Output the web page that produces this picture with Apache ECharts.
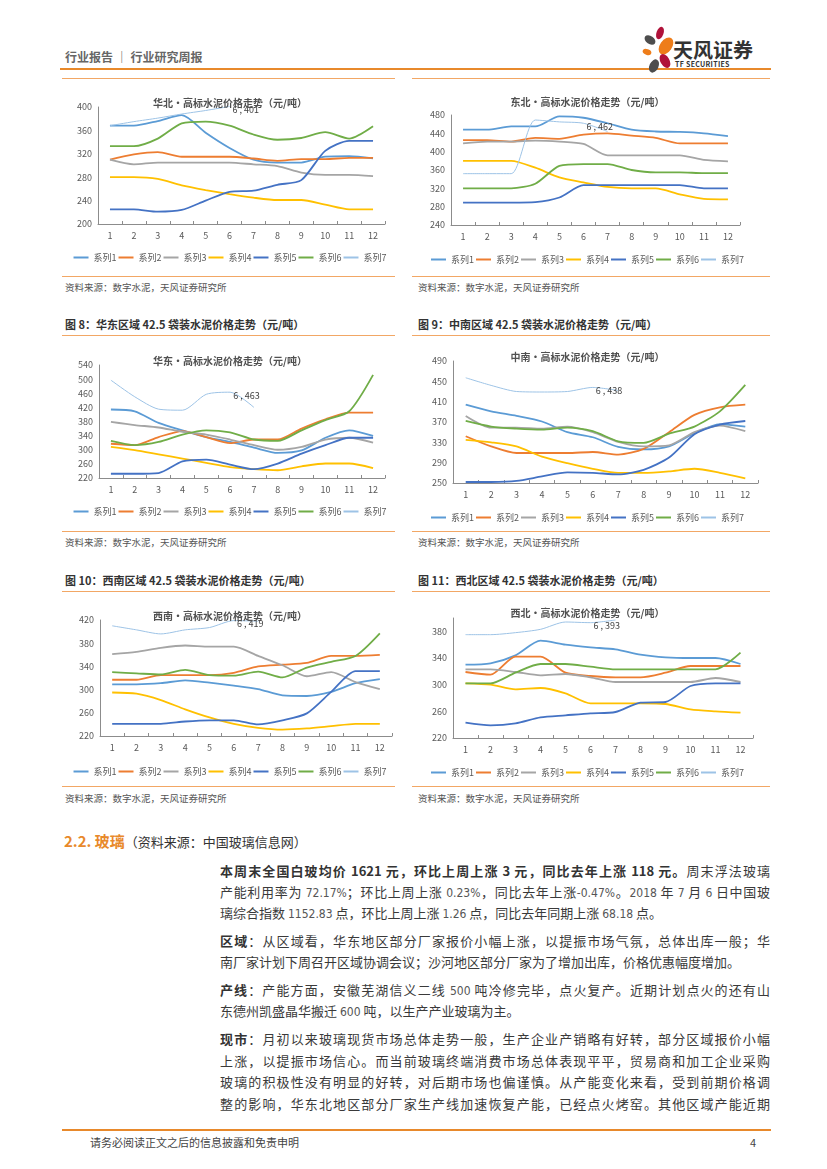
<!DOCTYPE html>
<html><head><meta charset="utf-8">
<script src="https://cdn.jsdelivr.net/npm/echarts@6/dist/echarts.min.js"></script>
<style>
html,body{margin:0;padding:0;background:#fff;}
body{width:827px;height:1169px;position:relative;overflow:hidden;font-family:"Noto Sans CJK SC","Noto Sans",sans-serif;color:#333;}
.abs{position:absolute;white-space:nowrap;}
.hl{position:absolute;height:1px;background:#F2A765;}
.chart{position:absolute;}
.src{position:absolute;font-size:9.5px;color:#555;white-space:nowrap;}
.fig{position:absolute;font-size:11px;font-weight:bold;color:#333;white-space:nowrap;}
.ln{position:absolute;left:220px;width:550px;font-size:13px;line-height:18px;color:#3a3a3a;text-align:justify;text-align-last:justify;white-space:nowrap;}
.ln.last{text-align-last:left;}
.ln b{color:#333;}
.num{color:#555;font-family:"DejaVu Sans Condensed","Liberation Sans",sans-serif;font-size:12px;}
</style></head>
<body>
<script>
// ---------- data ----------
const categories = ['1','2','3','4','5','6','7','8','9','10','11','12'];
const seriesNames = ['系列1','系列2','系列3','系列4','系列5','系列6','系列7'];

// 华北
const HB1 = [368,368,376,386,356,330,310,305,305,315,316,312];
const HB2 = [310,319,323,315,315,315,312,308,311,311,313,313];
const HB3 = [310,302,305,305,305,305,302,299,288,284,284,282];
const HB4 = [280,280,277,266,258,251,245,241,241,233,225,225];
const HB5 = [225,225,221,224,240,255,257,267,275,325,342,342];
const HB6 = [333,333,346,372,375,368,353,344,347,357,346,367];
const HB7 = [368,375,381,388,394,401];
const HB_TICKS = [200,240,280,320,360,400];

// 东北
const DB1 = [448,448,455,455,477,474,462,448,444,443,440,434];
const DB2 = [425,425,422,430,428,437,440,435,430,418,418,418];
const DB3 = [418,422,422,424,422,417,392,392,392,392,382,379];
const DB4 = [380,380,380,365,344,333,323,320,320,307,297,296];
const DB5 = [289,289,289,290,300,327,327,327,327,327,320,320];
const DB6 = [320,320,320,330,369,373,373,360,355,355,353,353];
const DB7 = [352,352,352,469,465,462,444];
const DB_TICKS = [240,280,320,360,400,440,480];

// 华东
const HD1 = [414,409,376,355,336,322,306,291,298,334,355,339];
const HD2 = [317,313,336,353,336,319,329,329,360,386,405,405];
const HD3 = [379,370,363,351,343,329,313,300,308,329,334,320];
const HD4 = [308,299,287,275,263,251,245,242,253,261,261,248];
const HD5 = [232,232,234,267,272,258,245,261,289,313,334,334];
const HD6 = [325,313,322,343,355,349,329,325,355,384,409,512];
const HD7 = [497,450,415,412,457,463,420];
const HD_TICKS = [220,260,300,340,380,420,460,500,540];

// 中南
const ZN1 = [404,391,382,371,350,340,321,316,322,348,366,361];
const ZN2 = [342,322,309,309,309,311,306,317,350,384,399,404];
const ZN3 = [382,359,359,357,361,350,331,322,324,350,363,352];
const ZN4 = [335,330,322,302,289,278,270,270,273,278,270,259];
const ZN5 = [252,252,254,263,271,270,267,276,300,346,365,372];
const ZN6 = [372,361,357,355,359,352,332,329,347,361,391,443];
const ZN7 = [457,442,430,429,430,438,432];
const ZN_TICKS = [250,290,330,370,410,450,490];

// 西南
const XN1 = [309,309,311,316,312,307,301,290,289,296,311,318];
const XN2 = [317,317,325,325,325,329,340,343,346,358,358,360];
const XN3 = [361,365,372,376,374,374,358,342,323,330,313,301];
const XN4 = [295,293,282,266,252,241,234,231,233,237,241,241];
const XN5 = [241,241,241,245,247,247,240,247,259,296,332,332];
const XN6 = [330,328,326,334,325,324,331,321,338,348,358,397];
const XN7 = [410,403,396,403,407,419,418];
const XN_TICKS = [220,260,300,340,380,420];

// 西北
const XB1 = [330,332,344,366,360,356,353,345,341,340,340,331];
const XB2 = [319,315,342,342,318,313,311,311,318,328,328,328];
const XB3 = [323,323,319,314,316,311,304,304,304,304,310,304];
const XB4 = [302,300,293,295,287,272,272,272,271,263,260,258];
const XB5 = [243,239,242,251,254,257,259,273,274,298,302,302];
const XB6 = [302,302,318,331,331,327,323,323,323,323,323,348];
const XB7 = [375,375,378,383,394,393,397];
const XB_TICKS = [220,260,300,340,380];

const LABEL_INDEX = 5; // data label on 系列7 at category 6
const COLORS = ['#5B9BD5','#ED7D31','#A5A5A5','#FFC000','#4472C4','#70AD47','#9DC3E6'];
</script>

<!-- header -->
<div class="abs" style="left:65px;top:48px;font-size:12px;font-weight:bold;color:#666;">行业报告 ｜ 行业研究周报</div>
<div style="position:absolute;left:60px;top:68px;width:711px;height:2px;background:#E8892B;"></div>
<svg style="position:absolute;left:636px;top:24px;" width="40" height="52" viewBox="636 24 40 52">
  <ellipse cx="660" cy="33" rx="3.5" ry="6.5" fill="#B0123A" transform="rotate(20 660 33)"/>
  <ellipse cx="650" cy="40" rx="4" ry="6" fill="#4D4D4D" transform="rotate(-55 650 40)"/>
  <ellipse cx="666" cy="46" rx="6" ry="9.5" fill="#EE7D1A" transform="rotate(35 666 46)"/>
  <ellipse cx="647" cy="52" rx="2.8" ry="4.5" fill="#EE7D1A" transform="rotate(-70 647 52)"/>
  <ellipse cx="665" cy="61" rx="4.5" ry="7.5" fill="#B0123A" transform="rotate(-30 665 61)"/>
  <ellipse cx="654" cy="66" rx="4.5" ry="7" fill="#4D4D4D" transform="rotate(25 654 66)"/>
</svg>
<div class="abs" style="left:673px;top:35px;font-size:20px;font-weight:bold;color:#333;">天风证券</div>
<div class="abs" style="left:675px;top:59px;font-size:7px;font-weight:bold;color:#333;letter-spacing:0.3px;">TF SECURITIES</div>

<!-- frame lines -->
<div class="hl" style="left:62px;top:78px;width:333px;"></div>
<div class="hl" style="left:412px;top:78px;width:358px;"></div>
<div class="hl" style="left:62px;top:276px;width:333px;"></div>
<div class="hl" style="left:412px;top:276px;width:358px;"></div>
<div class="src" style="left:65px;top:280px;">资料来源：数字水泥，天风证券研究所</div>
<div class="src" style="left:418px;top:280px;">资料来源：数字水泥，天风证券研究所</div>
<div class="fig" style="left:65px;top:316px;">图 8：华东区域 42.5 袋装水泥价格走势（元/吨）</div>
<div class="fig" style="left:418px;top:316px;">图 9：中南区域 42.5 袋装水泥价格走势（元/吨）</div>
<div class="hl" style="left:62px;top:335px;width:333px;"></div>
<div class="hl" style="left:412px;top:335px;width:358px;"></div>
<div class="hl" style="left:62px;top:531px;width:333px;"></div>
<div class="hl" style="left:412px;top:531px;width:358px;"></div>
<div class="src" style="left:65px;top:535px;">资料来源：数字水泥，天风证券研究所</div>
<div class="src" style="left:418px;top:535px;">资料来源：数字水泥，天风证券研究所</div>
<div class="fig" style="left:65px;top:572px;">图 10：西南区域 42.5 袋装水泥价格走势（元/吨）</div>
<div class="fig" style="left:418px;top:572px;">图 11：西北区域 42.5 袋装水泥价格走势（元/吨）</div>
<div class="hl" style="left:62px;top:591px;width:333px;"></div>
<div class="hl" style="left:412px;top:591px;width:358px;"></div>
<div class="hl" style="left:62px;top:786px;width:333px;"></div>
<div class="hl" style="left:412px;top:786px;width:358px;"></div>
<div class="src" style="left:65px;top:791px;">资料来源：数字水泥，天风证券研究所</div>
<div class="src" style="left:418px;top:791px;">资料来源：数字水泥，天风证券研究所</div>

<div id="c1" class="chart" style="left:60px;top:88px;width:340px;height:185px;"></div>
<div id="c2" class="chart" style="left:405px;top:88px;width:365px;height:185px;"></div>
<div id="c3" class="chart" style="left:60px;top:340px;width:340px;height:188px;"></div>
<div id="c4" class="chart" style="left:405px;top:340px;width:365px;height:188px;"></div>
<div id="c5" class="chart" style="left:60px;top:595px;width:340px;height:188px;"></div>
<div id="c6" class="chart" style="left:405px;top:595px;width:365px;height:188px;"></div>

<!-- section 2.2 -->
<div class="abs" style="left:64px;top:830px;font-size:15px;"><span style="color:#E8892B;font-weight:bold;">2.2. 玻璃</span><span style="font-size:13px;color:#333;">（资料来源：中国玻璃信息网）</span></div>

<div class="ln" style="top:862px;"><b>本周末全国白玻均价 1621 元，环比上周上涨 3 元，同比去年上涨 118 元。</b>周末浮法玻璃</div>
<div class="ln" style="top:883px;">产能利用率为 <span class="num">72.17%</span>；环比上周上涨 <span class="num">0.23%</span>，同比去年上涨<span class="num">-0.47%</span>。<span class="num">2018</span> 年 <span class="num">7</span> 月 <span class="num">6</span> 日中国玻</div>
<div class="ln last" style="top:904px;">璃综合指数 <span class="num">1152.83</span> 点，环比上周上涨 <span class="num">1.26</span> 点，同比去年同期上涨 <span class="num">68.18</span> 点。</div>

<div class="ln" style="top:932px;"><b>区域</b>：从区域看，华东地区部分厂家报价小幅上涨，以提振市场气氛，总体出库一般；华</div>
<div class="ln last" style="top:953px;">南厂家计划下周召开区域协调会议；沙河地区部分厂家为了增加出库，价格优惠幅度增加。</div>

<div class="ln" style="top:981px;"><b>产线</b>：产能方面，安徽芜湖信义二线 <span class="num">500</span> 吨冷修完毕，点火复产。近期计划点火的还有山</div>
<div class="ln last" style="top:1002px;">东德州凯盛晶华搬迁 <span class="num">600</span> 吨，以生产产业玻璃为主。</div>

<div class="ln" style="top:1030px;"><b>现市</b>：月初以来玻璃现货市场总体走势一般，生产企业产销略有好转，部分区域报价小幅</div>
<div class="ln" style="top:1052px;">上涨，以提振市场信心。而当前玻璃终端消费市场总体表现平平，贸易商和加工企业采购</div>
<div class="ln" style="top:1073px;">玻璃的积极性没有明显的好转，对后期市场也偏谨慎。从产能变化来看，受到前期价格调</div>
<div class="ln" style="top:1095px;">整的影响，华东北地区部分厂家生产线加速恢复产能，已经点火烤窑。其他区域产能近期</div>

<!-- footer -->
<div style="position:absolute;left:62px;top:1129px;width:709px;height:2px;background:#E8892B;"></div>
<div class="abs" style="left:90px;top:1134px;font-size:11px;color:#444;">请务必阅读正文之后的信息披露和免责申明</div>
<div class="abs" style="left:750px;top:1134px;font-size:11px;color:#444;">4</div>

<script>
const chartDefs = [
  {id:'c1', box:[60,88], plot:[98,385,107,224], range:[200,400], ticks:HB_TICKS, title:'华北•高标水泥价格走势（元/吨）', titleY:100, legendY:254, data:[HB1,HB2,HB3,HB4,HB5,HB6,HB7]},
  {id:'c2', box:[405,88], plot:[451,740,115,225], range:[240,480], ticks:DB_TICKS, title:'东北•高标水泥价格走势（元/吨）', titleY:99, legendY:256, data:[DB1,DB2,DB3,DB4,DB5,DB6,DB7]},
  {id:'c3', box:[60,340], plot:[99,385,365,478], range:[220,540], ticks:HD_TICKS, title:'华东•高标水泥价格走势（元/吨）', titleY:358, legendY:508, data:[HD1,HD2,HD3,HD4,HD5,HD6,HD7]},
  {id:'c4', box:[405,340], plot:[453,758,361,483], range:[250,490], ticks:ZN_TICKS, title:'中南•高标水泥价格走势（元/吨）', titleY:354, legendY:514, data:[ZN1,ZN2,ZN3,ZN4,ZN5,ZN6,ZN7]},
  {id:'c5', box:[60,595], plot:[100,392,620,736], range:[220,420], ticks:XN_TICKS, title:'西南•高标水泥价格走势（元/吨）', titleY:613, legendY:768, data:[XN1,XN2,XN3,XN4,XN5,XN6,XN7]},
  {id:'c6', box:[405,595], plot:[453,753,618,738], range:[220,400], ticks:XB_TICKS, title:'西北•高标水泥价格走势（元/吨）', titleY:610, legendY:769, data:[XB1,XB2,XB3,XB4,XB5,XB6,XB7]}
];
const FONT = '"Noto Sans CJK SC","Noto Sans",sans-serif';
chartDefs.forEach(d => {
  const el = document.getElementById(d.id);
  const W = el.offsetWidth, H = el.offsetHeight;
  const chart = echarts.init(el, null, {renderer:'canvas'});
  const bx = d.box[0], by = d.box[1];
  const series = d.data.map((arr, i) => {
    const last = i === 6;
    const s = {
      name: seriesNames[i], type:'line', data: arr, smooth: 0.25,
      symbol: last ? 'circle' : 'none', symbolSize: last ? 0.1 : 0, showSymbol: last,
      clip: false,
      lineStyle:{color:COLORS[i], width: last ? 1 : 1.8},
      itemStyle:{color:COLORS[i]},
      z: last ? 3 : 2,
      animation:false
    };
    if (last) {
      s.label = {show:true, position:'right', distance:3, offset:[0,3], fontSize:9, color:'#404040', fontFamily:FONT,
        formatter: p => p.dataIndex === LABEL_INDEX ? (p.name + ' , ' + p.value) : ''};
    }
    return s;
  });
  chart.setOption({
    animation:false,
    textStyle:{fontFamily:FONT},
    title:{text:d.title, left:'center', top:d.titleY - by - 7,
      textStyle:{fontSize:10, fontWeight:'bold', color:'#505050', fontFamily:FONT}},
    legend:{data:seriesNames, left:'center', top:d.legendY - by - 6, icon:'rect', itemWidth:15, itemHeight:2, itemGap:2,
      textStyle:{fontSize:9, color:'#595959', fontFamily:FONT}},
    grid:{left:d.plot[0]-bx, right:W-(d.plot[1]-bx), top:d.plot[2]-by, bottom:H-(d.plot[3]-by), containLabel:false},
    xAxis:{type:'category', data:categories, boundaryGap:true,
      axisLine:{lineStyle:{color:'#8C8C8C', width:1}},
      axisTick:{show:true, inside:true, length:3, lineStyle:{color:'#8C8C8C'}},
      axisLabel:{fontSize:9, color:'#595959', margin:7, fontFamily:FONT}},
    yAxis:{type:'value', min:d.range[0], max:d.range[1],
      axisLine:{show:true, lineStyle:{color:'#8C8C8C', width:1}},
      axisTick:{show:false},
      splitLine:{show:false},
      axisLabel:{fontSize:9, color:'#595959', margin:6, customValues:d.ticks, fontFamily:FONT}},
    series: series
  });
});
</script>
</body></html>
